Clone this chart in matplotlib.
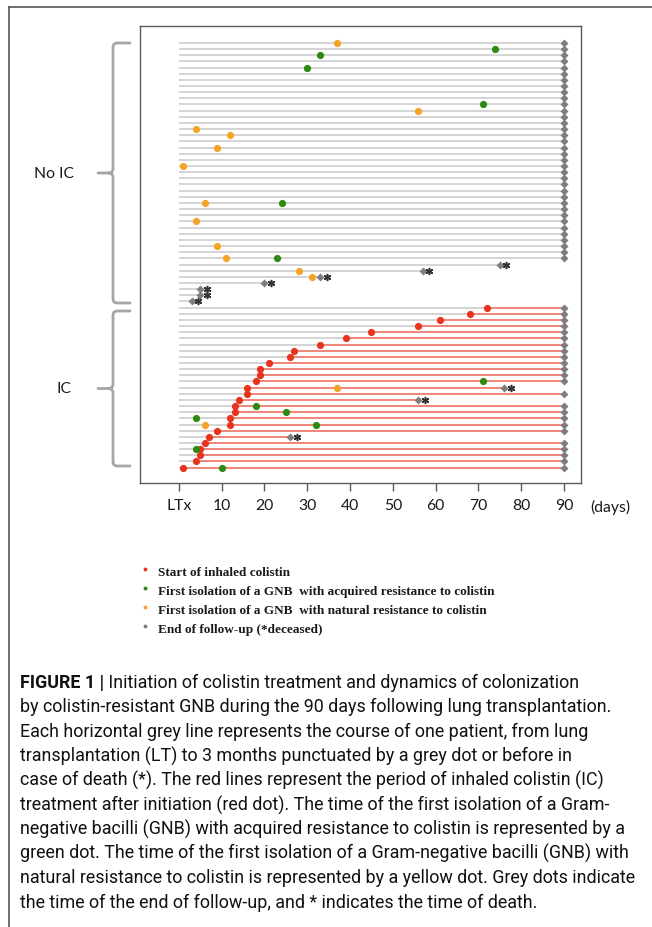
import numpy as np
import matplotlib
matplotlib.use('Agg')
import matplotlib.pyplot as plt
from matplotlib.path import Path
from matplotlib.patches import PathPatch
from matplotlib import transforms

nan = np.nan

# ---------------- data (rows from top to bottom) ----------------
group_labels = ['No IC', 'IC']
group_sizes = [43, 27]

# day of end of follow-up for each patient (90 = alive at 3 months)
end_day = ([90] * 36 + [75, 57, 33, 20, 5, 5, 3] +
           [90] * 13 + [76, 90, 56, 90, 90, 90, 90, 90, 26, 90, 90, 90, 90, 90])
deceased = ([False] * 36 + [True] * 7 +
            [False] * 13 + [True, False, True, False, False, False, False, False,
                            True, False, False, False, False, False])
# start of inhaled colistin (IC group only)
ic_start = [nan] * 43 + [72, 68, 61, 56, 45, 39, 33, 27, 26, 21, 19, 19, 18, 16,
                         16, 14, 13, 13, 12, 12, 9, 7, 6, 5, 5, 4, 1]
# first isolation of GNB with acquired resistance to colistin
acquired_rows = [1, 2, 4, 10, 26, 35, 55, 59, 60, 61, 62, 66, 69]
acquired_days = [74, 33, 30, 71, 24, 23, 71, 18, 25, 4, 32, 4, 10]
# first isolation of GNB with natural resistance to colistin
natural_rows = [0, 11, 14, 15, 17, 20, 26, 29, 33, 35, 37, 38, 56, 62]
natural_days = [37, 56, 4, 12, 9, 1, 6, 4, 9, 11, 28, 31, 37, 6]

xticks = [0, 10, 20, 30, 40, 50, 60, 70, 80, 90]
xticklabels = ['LTx', '10', '20', '30', '40', '50', '60', '70', '80', '90']

legend_labels = ['Start of inhaled colistin',
                 'First isolation of a GNB  with acquired resistance to colistin',
                 'First isolation of a GNB  with natural resistance to colistin',
                 'End of follow-up (*deceased)']

caption_bold = 'FIGURE 1 |'
caption_lines = [
    ' Initiation of colistin treatment and dynamics of colonization',
    'by colistin-resistant GNB during the 90 days following lung transplantation.',
    'Each horizontal grey line represents the course of one patient, from lung',
    'transplantation (LT) to 3 months punctuated by a grey dot or before in',
    'case of death (*). The red lines represent the period of inhaled colistin (IC)',
    'treatment after initiation (red dot). The time of the first isolation of a Gram-',
    'negative bacilli (GNB) with acquired resistance to colistin is represented by a',
    'green dot. The time of the first isolation of a Gram-negative bacilli (GNB) with',
    'natural resistance to colistin is represented by a yellow dot. Grey dots indicate',
    'the time of the end of follow-up, and * indicates the time of death.',
]

# ---------------- style ----------------
C_GREYLINE = '#d4d4d4'
C_REDLINE = '#f08478'
C_RED = '#e8341f'
C_GREEN = '#2e8a10'
C_ORANGE = '#f4a428'
C_GREYDOT = '#7e7e7e'
C_FRAME = '#5a5a5a'

W, H = 652, 928
fig = plt.figure(figsize=(W / 100, H / 100), dpi=100)
fig.patch.set_facecolor('white')


def fx(px):
    return px / W


def fy(py):
    return 1 - py / H


# main axes: frame 140..581 px horizontally, 27..484 px vertically
ax = fig.add_axes([fx(140), fy(484), fx(581) - fx(140), fy(27) - fy(484)])
n = len(end_day)
rows = np.arange(n)
ax.set_xlim(-9.1, 94.0)
ax.set_ylim(71.5, -2.75)

for i in range(n):
    s = ic_start[i]
    e = end_day[i]
    if np.isnan(s):
        ax.plot([0, e], [i, i], color=C_GREYLINE, lw=1.4, zorder=1, solid_capstyle='butt')
    else:
        ax.plot([0, s], [i, i], color=C_GREYLINE, lw=1.4, zorder=1, solid_capstyle='butt')
        ax.plot([s, e], [i, i], color=C_REDLINE, lw=1.4, zorder=1, solid_capstyle='butt')

ax.plot(end_day, rows, 'D', color=C_GREYDOT, ms=3.6, mec='none', zorder=2)
ax.plot(ic_start, rows, 'o', color=C_RED, ms=5.2, mec='none', zorder=3)
ax.plot(acquired_days, acquired_rows, 'o', color=C_GREEN, ms=5.2, mec='none', zorder=3)
ax.plot(natural_days, natural_rows, 'o', color=C_ORANGE, ms=5.2, mec='none', zorder=3)

# death asterisks, drawn just to the right of the grey end dot
dead_days = [d for d, dd in zip(end_day, deceased) if dd]
dead_rows = [r for r, dd in zip(rows, deceased) if dd]
star_tr = transforms.offset_copy(ax.transData, fig=fig, x=4.8, y=0, units='points')
ax.plot(dead_days, dead_rows, linestyle='none', marker=(6, 2, 0), ms=5.2,
        mew=1.1, color='#333333', transform=star_tr, zorder=4, clip_on=False)

for sp in ax.spines.values():
    sp.set_color(C_FRAME)
    sp.set_linewidth(1.0)
ax.set_yticks([])
ax.set_xticks(xticks)
ax.set_xticklabels(xticklabels, family='Lato', fontsize=11.3, color='#1a1a1a')
ax.tick_params(axis='x', direction='out', length=6, width=1.0, color=C_FRAME, pad=5)

fig.text(fx(590), fy(507), '(days)', family='Lato', fontsize=11.3, color='#1a1a1a',
         ha='left', va='center')

# overlay in pixel coordinates for decorations
ov = fig.add_axes([0, 0, 1, 1])
ov.set_xlim(0, W)
ov.set_ylim(H, 0)
ov.axis('off')
ov.patch.set_alpha(0)

# outer frame of the figure panel
ov.plot([9, W], [8, 8], color='#555555', lw=1.2)
ov.plot([9, 9], [8, H], color='#555555', lw=1.2)


def brace(top, bottom, xv=113, xr=130, xl=98, r=4.5):
    mid = (top + bottom) / 2
    verts = [
        (xr, top), (xv + r, top), (xv, top), (xv, top + r),
        (xv, mid - r), (xv, mid), (xv - r, mid), (xl, mid),
        (xv - r, mid), (xv, mid), (xv, mid + r),
        (xv, bottom - r), (xv, bottom), (xv + r, bottom), (xr, bottom),
    ]
    codes = [Path.MOVETO, Path.LINETO, Path.CURVE3, Path.CURVE3,
             Path.LINETO, Path.CURVE3, Path.CURVE3, Path.LINETO,
             Path.MOVETO, Path.CURVE3, Path.CURVE3,
             Path.LINETO, Path.CURVE3, Path.CURVE3, Path.LINETO]
    ov.add_patch(PathPatch(Path(verts, codes), fill=False, ec='#a6a6a6', lw=2.0,
                           capstyle='round', joinstyle='round'))
    return mid


m1 = brace(44, 304)
m2 = brace(312, 467)
ov.text(54, m1, group_labels[0], family='Lato', fontsize=11.3, ha='center', va='center',
        color='#1a1a1a')
ov.text(64, m2, group_labels[1], family='Lato', fontsize=11.3, ha='center', va='center',
        color='#1a1a1a')

# legend
leg_colors = [C_RED, C_GREEN, C_ORANGE, C_GREYDOT]
leg_y = [573, 592, 611, 630]
for c, yy, lab in zip(leg_colors, leg_y, legend_labels):
    ov.plot([145], [yy - 3], 'o', color=c, ms=2.8, mec='none')
    ov.text(158, yy, lab, family='Liberation Serif', fontsize=9.5, fontweight='bold',
            ha='left', va='center', color='#1a1a1a')

# caption
cap_fs = 12.9
cap_y0 = 683
cap_dy = 24.4
tb = ov.text(20, cap_y0, caption_bold, family='Roboto', fontweight='bold', fontsize=cap_fs,
             ha='left', va='center', color='#111111')
fig.canvas.draw()
bb = tb.get_window_extent()
x_end = bb.x1  # display pixels (same as figure pixels at dpi 100)
ov.text(x_end, cap_y0, caption_lines[0], family='Roboto', fontsize=cap_fs,
        ha='left', va='center', color='#111111')
for k, line in enumerate(caption_lines[1:], start=1):
    ov.text(20, cap_y0 + k * cap_dy, line, family='Roboto', fontsize=cap_fs,
            ha='left', va='center', color='#111111')

fig.savefig('out.png', dpi=100)
